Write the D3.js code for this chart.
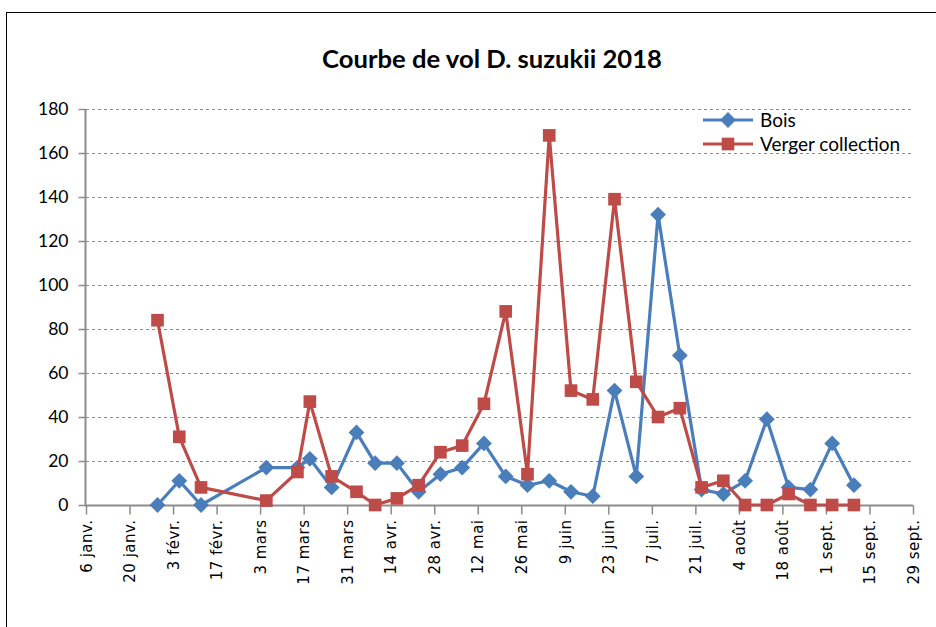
<!DOCTYPE html>
<html><head><meta charset="utf-8">
<script src="https://cdn.jsdelivr.net/npm/d3@7"></script>
<style>body{margin:0;background:#fff}svg{display:block}</style>
</head><body>
<script>
const title = "Courbe de vol D. suzukii 2018";
const seriesNames = ["Bois", "Verger collection"];
const dates = ["2018-01-29","2018-02-05","2018-02-12","2018-03-05","2018-03-15","2018-03-19","2018-03-26","2018-04-03","2018-04-09","2018-04-16","2018-04-23","2018-04-30","2018-05-07","2018-05-14","2018-05-21","2018-05-28","2018-06-04","2018-06-11","2018-06-18","2018-06-25","2018-07-02","2018-07-09","2018-07-16","2018-07-23","2018-07-30","2018-08-06","2018-08-13","2018-08-20","2018-08-27","2018-09-03","2018-09-10"];
const bois =   [0,11,0,17,17,21,8,33,19,19,6,14,17,28,13,9,11,6,4,52,13,132,68,7,5,11,39,8,7,28,9];
const verger = [84,31,8,2,15,47,13,6,0,3,9,24,27,46,88,14,168,52,48,139,56,40,44,8,11,0,0,5,0,0,0];
const xDomain = ["2018-01-06","2018-09-29"];
const tickStepDays = 14;
const monthLabels = ["janv.","févr.","mars","avr.","mai","juin","juil.","août","sept.","oct.","nov.","déc."];
const yTicks = [0,20,40,60,80,100,120,140,160,180];

const W = 936, H = 627;
const svg = d3.select("body").append("svg").attr("width", W).attr("height", H);

// frame
svg.append("rect").attr("x",6.5).attr("y",12.5).attr("width",1200).attr("height",1200)
  .attr("fill","none").attr("stroke","#000").attr("stroke-width",1);

const parse = d3.timeParse("%Y-%m-%d");
const x = d3.scaleTime().domain(xDomain.map(parse)).range([86, 913]);
const y = d3.scaleLinear().domain([0,180]).range([505, 109]);

// grid
svg.append("g").selectAll("line").data(yTicks.filter(d=>d>0)).join("line")
  .attr("x1",86).attr("x2",913).attr("y1",d=>y(d)+0.5).attr("y2",d=>y(d)+0.5)
  .attr("stroke","#8c8c8c").attr("stroke-width",1.2).attr("stroke-dasharray","3,3");

// y axis
const yAxis = d3.axisLeft(y).tickValues(yTicks).tickSize(7).tickPadding(10).tickFormat(d3.format("d"));
const gy = svg.append("g").attr("transform","translate(85.5,0)").call(yAxis);
gy.select(".domain").attr("stroke","#8c8c8c").attr("stroke-width",2).attr("d","M0,505V109");
gy.selectAll(".tick line").attr("stroke","#8c8c8c").attr("stroke-width",1.5);
gy.selectAll(".tick text").attr("font-family","Lato, 'Liberation Sans', sans-serif").attr("font-size",17.5).attr("fill","#000");

// x axis
const xTicks = d3.timeDay.range(parse(xDomain[0]), d3.timeDay.offset(parse(xDomain[1]),1), 1)
  .filter((d,i)=> i % tickStepDays === 0);
const xAxis = d3.axisBottom(x).tickValues(xTicks).tickSize(9).tickPadding(6)
  .tickFormat(d => d.getDate() + " " + monthLabels[d.getMonth()]);
const gx = svg.append("g").attr("transform","translate(0,505.5)").call(xAxis);
gx.select(".domain").attr("stroke","#8c8c8c").attr("stroke-width",2).attr("d","M85,0H913");
gx.selectAll(".tick line").attr("stroke","#8c8c8c").attr("stroke-width",1.5);
gx.selectAll(".tick text").attr("font-family","'DejaVu Sans', sans-serif").attr("font-size",15)
  .attr("fill","#000").attr("letter-spacing","0.5px")
  .attr("transform","rotate(-90)").attr("text-anchor","end").attr("x",-14).attr("y",0).attr("dy","0.35em");

const colors = ["#4A7EBB", "#BE4B48"];
const series = [bois, verger];
const line = d3.line().x((d,i)=>x(parse(dates[i]))).y(d=>y(d));

series.forEach((vals, si) => {
  const g = svg.append("g");
  g.append("path").datum(vals).attr("d", line).attr("fill","none")
    .attr("stroke", colors[si]).attr("stroke-width",3.2).attr("stroke-linejoin","round");
  const sym = si === 0 ? d3.symbol(d3.symbolDiamond2, 160) : d3.symbol(d3.symbolSquare, 160);
  g.selectAll("path.m").data(vals).join("path").attr("class","m")
    .attr("transform",(d,i)=>`translate(${x(parse(dates[i]))},${y(d)})`)
    .attr("d", sym).attr("fill", colors[si]);
});

// legend
seriesNames.forEach((name, si) => {
  const ly = 120 + si*24;
  const g = svg.append("g");
  g.append("line").attr("x1",703).attr("x2",753).attr("y1",ly).attr("y2",ly)
    .attr("stroke",colors[si]).attr("stroke-width",3.2);
  const sym = si === 0 ? d3.symbol(d3.symbolDiamond2, 160) : d3.symbol(d3.symbolSquare, 160);
  g.append("path").attr("transform",`translate(728,${ly})`).attr("d",sym).attr("fill",colors[si]);
  g.append("text").attr("x",760).attr("y",ly+7).text(name)
    .attr("font-family","Lato, 'Liberation Sans', sans-serif").attr("font-size",19).attr("fill","#000");
});

// title
const t = svg.append("text").attr("x",492).attr("y",68).attr("text-anchor","middle")
  .attr("font-family","Lato, 'Liberation Sans', sans-serif").attr("font-weight","bold")
  .attr("font-size",22).attr("fill","#000").text(title);
const tl = t.node().getComputedTextLength();
t.attr("font-size", 22*340/tl);
</script>
</body></html>
